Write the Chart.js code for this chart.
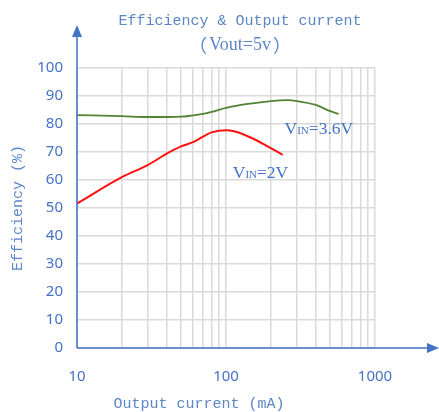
<!DOCTYPE html>
<html>
<head>
<meta charset="utf-8">
<script src="https://cdn.jsdelivr.net/npm/chart.js@4"></script>
<style>
    html, body { margin: 0; padding: 0; background: #ffffff; }
    #wrap { width: 439px; height: 412px; }
</style>
</head>
<body>
<div id="wrap"><canvas id="effChart" width="439" height="412"></canvas></div>
<script>
// values
const xGridValues = [10, 20, 30, 40, 50, 60, 70, 80, 90, 100, 200, 300, 400, 500, 600, 700, 800, 900, 1000];
const xTickLabels = [10, 100, 1000];

const greenCurrent = [10, 20, 30, 40, 50, 60, 70, 80, 100, 150, 200, 260, 300, 400, 500, 570];
const greenEff = [83.2, 82.8, 82.5, 82.5, 82.6, 83.1, 83.6, 84.3, 85.8, 87.4, 88.2, 88.5, 88.2, 86.8, 84.6, 83.6];

const redCurrent = [10, 20, 30, 40, 50, 60, 70, 80, 100, 115, 150, 190, 240];
const redEff = [51.6, 61, 65.4, 69.4, 72, 73.5, 75.5, 77, 77.8, 77.3, 74.9, 72, 69];

const blue = '#4472C4';
const lightBlue = '#5B86C8';

function toPoints(xs, ys) {
    return xs.map((x, i) => ({ x: x, y: ys[i] }));
}

// arrows, titles and the VIN labels
const decorPlugin = {
    id: 'decor',
    afterDraw(chart) {
        const ctx = chart.ctx;
        const area = chart.chartArea;
        const xs = chart.scales.x;
        const ys = chart.scales.y;
        ctx.save();

        // axis lines with arrow heads
        ctx.strokeStyle = blue;
        ctx.fillStyle = blue;
        ctx.lineWidth = 1.5;
        ctx.beginPath();
        ctx.moveTo(area.left, area.bottom);
        ctx.lineTo(area.left, 32);
        ctx.moveTo(area.left, area.bottom);
        ctx.lineTo(432, area.bottom);
        ctx.stroke();
        ctx.beginPath();
        ctx.moveTo(area.left, 25);
        ctx.lineTo(area.left - 5, 37);
        ctx.lineTo(area.left + 5, 37);
        ctx.closePath();
        ctx.fill();
        ctx.beginPath();
        ctx.moveTo(439, area.bottom);
        ctx.lineTo(427, area.bottom - 5);
        ctx.lineTo(427, area.bottom + 5);
        ctx.closePath();
        ctx.fill();

        // titles
        ctx.fillStyle = lightBlue;
        ctx.textAlign = 'center';
        ctx.textBaseline = 'middle';
        ctx.font = '15px "Liberation Mono"';
        ctx.fillText('Efficiency & Output current', area.left + 163, 21);

        const subX = area.left + 163;
        ctx.font = '18px "Liberation Serif"';
        const subW = ctx.measureText('Vout=5v').width;
        ctx.fillText('Vout=5v', subX, 45);
        ctx.font = '18px "Noto Sans CJK SC"';
        ctx.textAlign = 'right';
        ctx.fillText('（', subX - subW / 2 - 2, 45);
        ctx.textAlign = 'left';
        ctx.fillText('）', subX + subW / 2 + 2, 45);

        ctx.textAlign = 'center';
        ctx.font = '15px "Liberation Mono"';
        ctx.fillText('Output current (mA)', area.left + 122, 404);
        ctx.save();
        ctx.translate(18, (area.top + area.bottom) / 2);
        ctx.rotate(-Math.PI / 2);
        ctx.fillText('Efficiency (%)', 0, 0);
        ctx.restore();

        // curve labels
        function vinLabel(x, y, rest) {
            ctx.fillStyle = blue;
            ctx.textAlign = 'left';
            ctx.textBaseline = 'alphabetic';
            ctx.font = '17.5px "Liberation Serif"';
            ctx.fillText('V', x, y);
            let px = x + ctx.measureText('V').width;
            ctx.font = '11px "Liberation Serif"';
            ctx.fillText('IN', px, y);
            px += ctx.measureText('IN').width;
            ctx.font = '17.5px "Liberation Serif"';
            ctx.fillText(rest, px, y);
        }
        vinLabel(xs.getPixelForValue(247), ys.getPixelForValue(76.6), '=3.6V');
        vinLabel(xs.getPixelForValue(111), ys.getPixelForValue(60.6), '=2V');

        ctx.restore();
    }
};

const ctx = document.getElementById('effChart').getContext('2d');
const effChart = new Chart(ctx, {
    type: 'line',
    data: {
        datasets: [{
            label: 'VIN=3.6V',
            data: toPoints(greenCurrent, greenEff),
            borderColor: '#548235',
            borderWidth: 1.8,
            pointRadius: 0,
            cubicInterpolationMode: 'monotone',
            fill: false
        }, {
            label: 'VIN=2V',
            data: toPoints(redCurrent, redEff),
            borderColor: '#FF1010',
            borderWidth: 2,
            pointRadius: 0,
            cubicInterpolationMode: 'monotone',
            fill: false
        }]
    },
    options: {
        responsive: false,
        animation: false,
        layout: { padding: { top: 68, right: 64, left: 0, bottom: 0 } },
        plugins: {
            legend: { display: false },
            title: { display: false },
            tooltip: { enabled: false }
        },
        scales: {
            x: {
                type: 'logarithmic',
                min: 10,
                max: 1000,
                afterBuildTicks: scale => {
                    scale.ticks = xGridValues.map(v => ({ value: v }));
                },
                afterFit: scale => { scale.height = 64; },
                grid: { color: '#DADADA', lineWidth: 1.5, drawTicks: false },
                border: { display: false },
                ticks: {
                    autoSkip: false,
                    maxRotation: 0,
                    padding: 20,
                    color: blue,
                    font: { family: 'Noto Sans', size: 15 },
                    callback: value => xTickLabels.includes(value) ? String(value) : ''
                }
            },
            y: {
                min: 0,
                max: 100,
                afterFit: scale => { scale.width = 77; },
                grid: { color: '#DADADA', lineWidth: 1.5, drawTicks: false },
                border: { display: false },
                ticks: {
                    stepSize: 10,
                    padding: 14,
                    color: blue,
                    font: { family: 'Noto Sans', size: 15 }
                }
            }
        }
    },
    plugins: [decorPlugin]
});
</script>
</body>
</html>
